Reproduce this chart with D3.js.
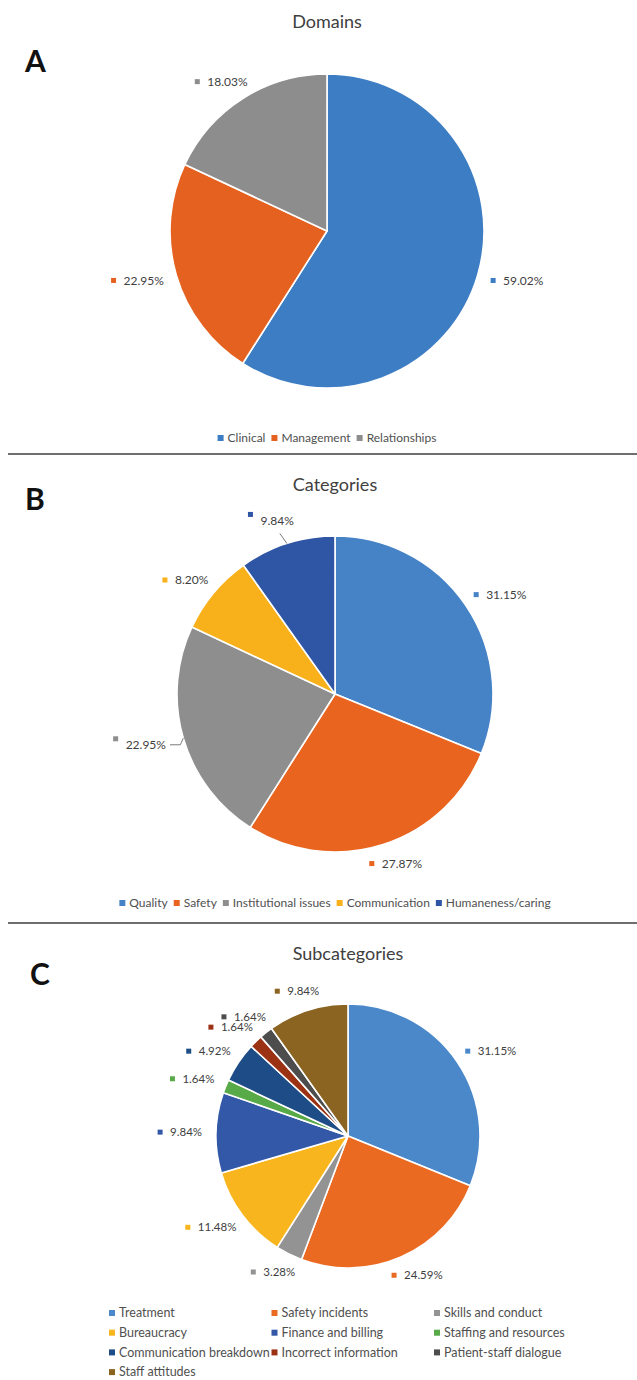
<!DOCTYPE html>
<html>
<head>
<meta charset="utf-8">
<script src="https://cdn.jsdelivr.net/npm/d3@7"></script>
<style>
  html, body { margin: 0; padding: 0; background: #ffffff; }
  svg { display: block; }
  text { font-family: Lato, "Noto Sans", sans-serif; }
</style>
</head>
<body>
<svg id="chart" width="637" height="1380"></svg>
<script>
// ---- Data ----
const domainNames = ["Clinical", "Management", "Relationships"];
const domainValues = [59.02, 22.95, 18.03];

const categoryNames = ["Quality", "Safety", "Institutional issues", "Communication", "Humaneness/caring"];
const categoryValues = [31.15, 27.87, 22.95, 8.20, 9.84];

const subcategoryNames = [
  "Treatment", "Safety incidents", "Skills and conduct",
  "Bureaucracy", "Finance and billing", "Staffing and resources",
  "Communication breakdown", "Incorrect information", "Patient-staff dialogue",
  "Staff attitudes"
];
const subcategoryValues = [31.15, 24.59, 3.28, 11.48, 9.84, 1.64, 4.92, 1.64, 1.64, 9.84];

// ---- Colours ----
const domainColors = ["#3d7dc3", "#e5611f", "#8d8d8d"];
const categoryColors = ["#4683c6", "#e8641f", "#8e8e8e", "#f8b11b", "#2f55a5"];
const subcategoryColors = ["#4a88ca", "#ea6a22", "#939393", "#f9b51d", "#3258a7",
                           "#58a947", "#1e4c86", "#9c3214", "#4d4d4d", "#8a6420"];

const svg = d3.select("#chart");
const textColor = "#404040";

// Panel layout
const panels = [
  { title: "Domains", letter: "A", names: domainNames, values: domainValues, colors: domainColors,
    cx: 327, cy: 231, r: 157, titleY: 28, letterX: 25, letterY: 72, labelSize: 12,
    legendY: 438, legendCols: null, leaders: {} },
  { title: "Categories", letter: "B", names: categoryNames, values: categoryValues, colors: categoryColors,
    cx: 335, cy: 694, r: 158, titleY: 491, letterX: 25, letterY: 510, labelSize: 12,
    legendY: 903, legendCols: null,
    leaders: { "Institutional issues": { dx: -5, dy: 1, kind: "bend" },
               "Humaneness/caring": { dx: -5, dy: -4, kind: "straight" } } },
  { title: "Subcategories", letter: "C", names: subcategoryNames, values: subcategoryValues, colors: subcategoryColors,
    cx: 348, cy: 1136, r: 132, titleY: 960, letterX: 30, letterY: 985, labelSize: 11.5,
    legendY: 1313, legendCols: { x0: 112, step: 162.5, rowH: 19.7, n: 3 }, leaders: {} }
];

// Separator rules between the panels
[454, 923].forEach(y => {
  svg.append("line").attr("x1", 8).attr("x2", 637).attr("y1", y).attr("y2", y)
    .attr("stroke", "#6e6e6e").attr("stroke-width", 2);
});

const pie = d3.pie().sort(null).value(d => d);

panels.forEach(p => {
  const g = svg.append("g");

  // Title and panel letter
  g.append("text").attr("x", p.cx).attr("y", p.titleY)
    .attr("text-anchor", "middle").attr("font-size", 18).attr("fill", textColor)
    .text(p.title);
  g.append("text").attr("x", p.letterX).attr("y", p.letterY)
    .attr("font-family", "Liberation Sans, Arial, sans-serif")
    .attr("font-weight", "bold").attr("font-size", 30).attr("fill", "#111")
    .text(p.letter);

  // Slices
  const arcs = pie(p.values);
  const arc = d3.arc().innerRadius(0).outerRadius(p.r);
  g.append("g").attr("transform", `translate(${p.cx},${p.cy})`)
    .selectAll("path").data(arcs).join("path")
    .attr("d", arc)
    .attr("fill", (d, i) => p.colors[i])
    .attr("stroke", "#ffffff").attr("stroke-width", 1.6)
    .attr("stroke-linejoin", "round");

  // Data labels placed outside each slice along its mid angle
  const lab = g.append("g");
  arcs.forEach((d, i) => {
    const mid = (d.startAngle + d.endAngle) / 2;
    const ux = Math.sin(mid), uy = -Math.cos(mid);
    const t = lab.append("text").attr("font-size", p.labelSize).attr("fill", textColor)
      .attr("dy", "0.35em").text(p.values[i].toFixed(2) + "%");
    const tw = t.node().getComputedTextLength();
    const w = tw + 13, h = 12;
    const ld = p.leaders[p.names[i]];
    let bx = p.cx + (p.r + 14) * ux + ux * w / 2;
    let by = p.cy + (p.r + 14) * uy + uy * h / 2;
    if (ld) { bx += ld.dx; by += ld.dy; }
    const tx = bx - w / 2 + 13;
    t.attr("x", tx).attr("y", by);
    const my = ld ? by - 6 : by;
    lab.append("rect").attr("x", tx - 12.5).attr("y", my - 2.5)
      .attr("width", 5).attr("height", 5).attr("fill", p.colors[i]);

    if (ld) {
      const ex = p.cx + p.r * ux, ey = p.cy + p.r * uy;
      let pts;
      if (ld.kind === "bend") {
        pts = [[bx + w / 2 + 4, by], [ex - 3, by], [ex, ey]];
      } else {
        const ddx = ex - bx, ddy = ey - by, len = Math.hypot(ddx, ddy);
        pts = [[bx + ddx / len * 16, by + ddy / len * 16], [ex, ey]];
      }
      lab.append("path").attr("d", d3.line()(pts))
        .attr("fill", "none").attr("stroke", "#7a7a7a").attr("stroke-width", 1);
    }
  });

  // Legend
  const leg = g.append("g");
  if (!p.legendCols) {
    const items = p.names.map((n, i) => {
      const item = leg.append("g");
      item.append("rect").attr("width", 6).attr("height", 6).attr("y", -3).attr("fill", p.colors[i]);
      const t = item.append("text").attr("x", 10).attr("dy", "0.35em")
        .attr("font-size", 12).attr("fill", "#505050").text(n);
      return { item, w: 10 + t.node().getComputedTextLength() };
    });
    const gap = 6;
    const total = d3.sum(items, d => d.w) + gap * (items.length - 1);
    let x = p.cx - total / 2;
    items.forEach(it => {
      it.item.attr("transform", `translate(${x},${p.legendY})`);
      x += it.w + gap;
    });
  } else {
    const c = p.legendCols;
    p.names.forEach((n, i) => {
      const col = i % c.n, row = Math.floor(i / c.n);
      const item = leg.append("g")
        .attr("transform", `translate(${c.x0 - 3 + col * c.step},${p.legendY + row * c.rowH})`);
      item.append("rect").attr("width", 6).attr("height", 6).attr("y", -3).attr("fill", p.colors[i]);
      item.append("text").attr("x", 10).attr("dy", "0.35em")
        .attr("font-size", 12.5).attr("fill", "#505050").text(n);
    });
  }
});
</script>
</body>
</html>
